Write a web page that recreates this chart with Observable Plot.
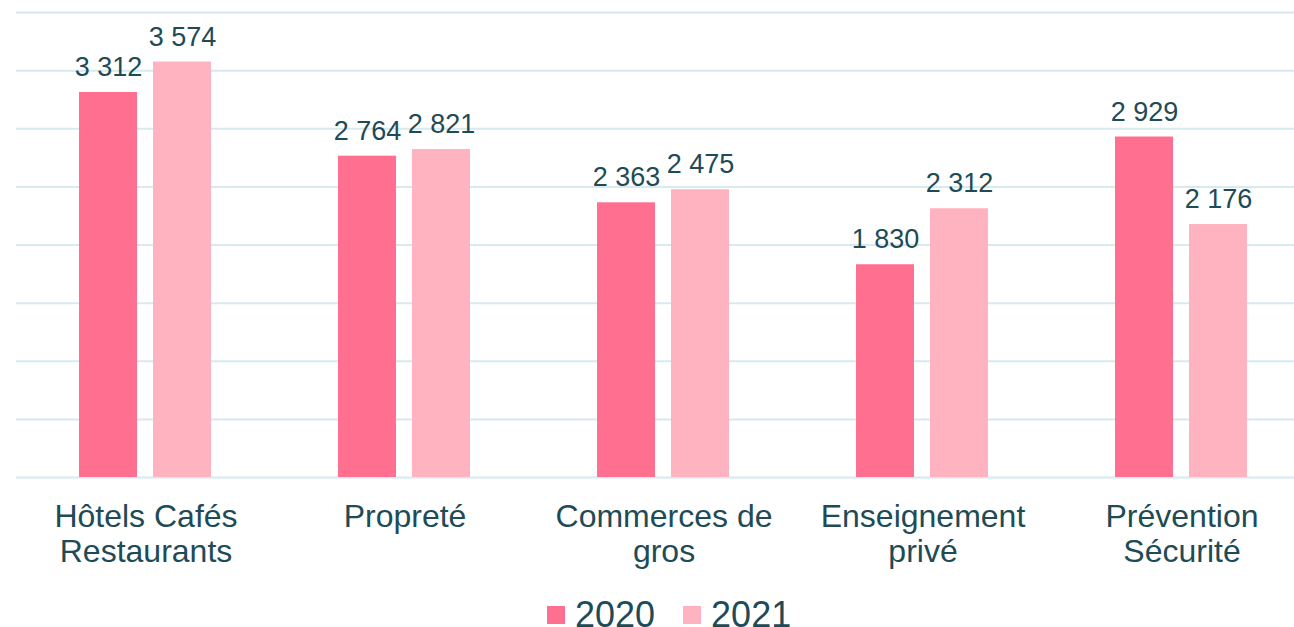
<!DOCTYPE html>
<html><head><meta charset="utf-8">
<script src="https://cdn.jsdelivr.net/npm/d3@7"></script>
<script src="https://cdn.jsdelivr.net/npm/@observablehq/plot@0.6"></script>
<style>
body{margin:0;background:#fff;font-family:"Liberation Sans",Arial,sans-serif;}
#wrap{position:relative;width:1294px;height:627px;overflow:hidden;}
#chart{position:absolute;left:0;top:0;width:1311px;}
#chart svg{max-width:none !important;}
#legend{position:absolute;left:547px;top:595px;display:flex;align-items:center;font-size:36px;color:#1E4B55;line-height:40px;white-space:nowrap;}
.sw{display:inline-block;width:18px;height:18px;margin-right:10px;}
.item{display:flex;align-items:center;margin-right:28px;}
</style></head>
<body>
<div id="wrap"><div id="chart"></div><div id="legend"></div></div>
<script>
const categories = ["Hôtels Cafés\nRestaurants","Propreté","Commerces de\ngros","Enseignement\nprivé","Prévention\nSécurité"];
const years = ["2020","2021"];
const values2020 = [3312, 2764, 2363, 1830, 2929];
const values2021 = [3574, 2821, 2475, 2312, 2176];
const yTicks = [0,500,1000,1500,2000,2500,3000,3500,4000];
const colors = ["#FF7090","#FFB3C0"];
const textColor = "#1E4B55";

const rows = [];
categories.forEach((c,i)=>{
  rows.push({cat:c, year:"2020", value:values2020[i]});
  rows.push({cat:c, year:"2021", value:values2021[i]});
});
const fmt = d3.formatLocale({thousands:" ", grouping:[3], decimal:",", currency:["","€"]}).format(",d");

const chart = Plot.plot({
  width: 1311,
  height: 598,
  marginLeft: 16,
  marginRight: 0,
  marginTop: 12,
  marginBottom: 121,
  style: {fontFamily:"Liberation Sans, Arial, sans-serif", color: textColor, background:"#fff", maxWidth:"none"},
  fx: {domain: categories, padding: 0, axis: null},
  x: {domain: years, paddingInner: 0.216, paddingOuter: 0.858, axis: null},
  y: {domain: [0,4000], axis: null},
  color: {domain: years, range: colors},
  marks: [
    Plot.ruleY(yTicks, {stroke:"#D6EAF0", strokeWidth:2}),
    Plot.barY(rows, {fx:"cat", x:"year", y:"value", fill:"year"}),
    Plot.text(rows, {fx:"cat", x:"year", y:"value", text:d=>fmt(d.value), dy:-25, fontSize:27, fill:textColor, textAnchor:"middle"}),
    Plot.text(categories, {fx:d=>d, text:d=>d, frameAnchor:"bottom", lineAnchor:"top", dy:25, fontSize:32, lineHeight:1.08, fill:textColor})
  ]
});
chart.style.maxWidth = "none";
document.getElementById("chart").appendChild(chart);

const lg = document.getElementById("legend");
years.forEach((y,i)=>{
  const it = document.createElement("span");
  it.className="item";
  it.innerHTML = `<span class="sw" style="background:${colors[i]}"></span>${y}`;
  lg.appendChild(it);
});
</script>
</body></html>
